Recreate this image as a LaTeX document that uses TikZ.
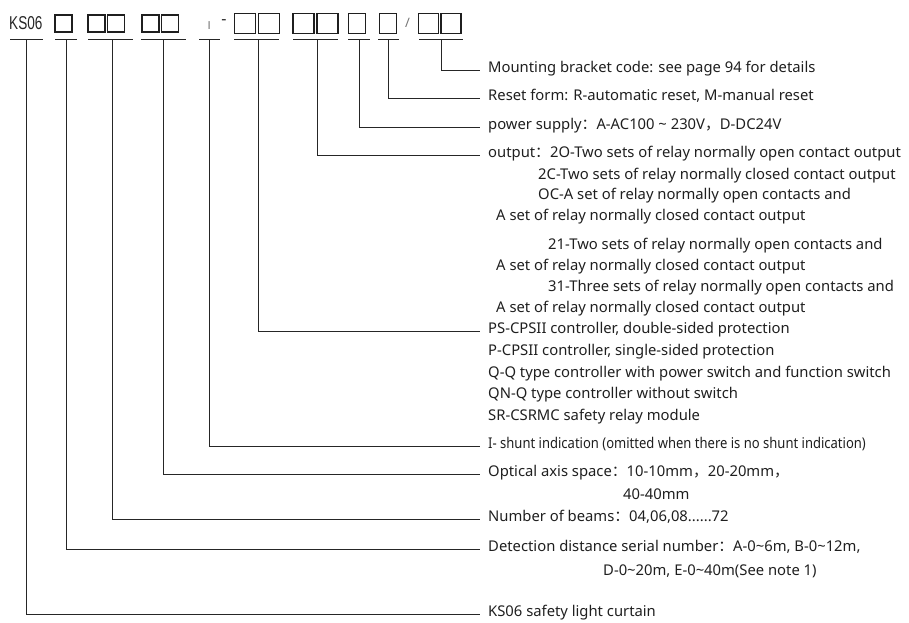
\documentclass[tikz,border=0pt]{standalone}
\usepackage{fontspec}
\setmainfont{Noto Sans}
\newfontfamily\cjk{Noto Sans CJK SC}
\newfontfamily\arialfont{Liberation Sans}
\newcommand{\tld}{\char`\~}
\newcommand{\fcolon}{{\cjk ：}}
\newcommand{\fcomma}{{\cjk ，}}
\begin{document}
\begin{tikzpicture}[x=1pt,y=-1pt,
  lbl/.style={anchor=west,inner sep=0pt,text height=0.72em,text depth=0.22em,font=\fontsize{14.8}{17}\selectfont,text=black!88},
  sbox/.style={draw=black!88,line width=1.4pt,minimum width=17pt,minimum height=17pt,inner sep=0pt,outer sep=0pt,anchor=north west},
  wbox/.style={draw=black!88,line width=1.4pt,minimum width=21pt,minimum height=20pt,inner sep=0pt,outer sep=0pt,anchor=north west},
  ln/.style={draw=black!85,line width=0.9pt},
  glyphmark/.style={inner sep=0pt,text=black!55}]
\useasboundingbox (0,0) rectangle (909,622);
% top code row
\node[anchor=west,inner sep=0pt,text=black!85] (ks) at (9,23.3) {\arialfont\fontsize{18.6}{18.6}\selectfont\scalebox{0.73}[1]{KS06}};
\node[sbox] (bx1) at (55,15) {};
\node[sbox] (bx2) at (88,15) {};
\node[sbox] (bx3) at (107.5,15) {};
\node[sbox] (bx4) at (142,15) {};
\node[sbox] (bx5) at (161.5,15) {};
\node[glyphmark,font=\arialfont\fontsize{11.5}{11.5}\selectfont] (imark) at (209.3,26) {I};
\node[inner sep=0pt,text=black!85,font=\fontsize{16}{16}\selectfont] (dash) at (224,22.5) {-};
\node[wbox] (bx6) at (234.5,13.5) {};
\node[wbox] (bx7) at (258.5,13.5) {};
\node[wbox] (bx8) at (293,13.5) {};
\node[wbox] (bx9) at (317,13.5) {};
\node[wbox,minimum width=17pt] (bx10) at (348.5,13.5) {};
\node[wbox,minimum width=17pt] (bx11) at (379.5,13.5) {};
\node[glyphmark,font=\fontsize{13}{13}\selectfont] (slash) at (407.5,23) {/};
\node[wbox,minimum width=20pt] (bx12) at (418.5,13.5) {};
\node[wbox,minimum width=20pt] (bx13) at (441,13.5) {};
% underlines
\draw[ln] (10,39.5) -- (43,39.5);
\draw[ln] (55,39.5) -- (77,39.5);
\draw[ln] (88,39.5) -- (133,39.5);
\draw[ln] (141,39.5) -- (186,39.5);
\draw[ln] (199,39.5) -- (220,39.5);
\draw[ln] (234,39.5) -- (279,39.5);
\draw[ln] (293,39.5) -- (338,39.5);
\draw[ln] (348,39.5) -- (370,39.5);
\draw[ln] (378,39.5) -- (399,39.5);
\draw[ln] (419,39.5) -- (463,39.5);
% tick coordinates
\coordinate (tK) at (26.5,39.5);
\coordinate (tD) at (66,39.5);
\coordinate (tB) at (112,39.5);
\coordinate (tA) at (163,39.5);
\coordinate (tI) at (209,39.5);
\coordinate (tC) at (258,39.5);
\coordinate (tO) at (317,39.5);
\coordinate (tP) at (359,39.5);
\coordinate (tR) at (388,39.5);
\coordinate (tM) at (441,39.5);
% labels
\node[lbl] (m1) at (488,70) {Mounting bracket code: see page 94 for details};
\node[lbl] (r1) at (488,98) {Reset form: R-automatic reset, M-manual reset};
\node[lbl] (p1) at (488,127) {power supply\fcolon A-AC100 \tld\ 230V\fcomma D-DC24V};
\node[lbl] (o1) at (488,155) {output\fcolon 2O-Two sets of relay normally open contact output};
\node[lbl] (o2) at (538,176.5) {2C-Two sets of relay normally closed contact output};
\node[lbl] (o3) at (538,197) {OC-A set of relay normally open contacts and};
\node[lbl] (o4) at (496,218) {A set of relay normally closed contact output};
\node[lbl] (o5) at (548,247) {21-Two sets of relay normally open contacts and};
\node[lbl] (o6) at (496,268) {A set of relay normally closed contact output};
\node[lbl] (o7) at (548,289) {31-Three sets of relay normally open contacts and};
\node[lbl] (o8) at (496,310) {A set of relay normally closed contact output};
\node[lbl] (c1) at (488,331) {PS-CPSII controller, double-sided protection};
\node[lbl] (c2) at (488,353) {P-CPSII controller, single-sided protection};
\node[lbl] (c3) at (488,375) {Q-Q type controller with power switch and function switch};
\node[lbl] (c4) at (488,396) {QN-Q type controller without switch};
\node[lbl] (c5) at (488,418) {SR-CSRMC safety relay module};
\node[lbl] (i1) at (488,446) {\scalebox{0.88}[1]{I- shunt indication (omitted when there is no shunt indication)}};
\node[lbl] (a1) at (488,474) {Optical axis space\fcolon 10-10mm\fcomma 20-20mm\fcomma};
\node[lbl] (a2) at (623,497) {40-40mm};
\node[lbl] (b1) at (488,519) {Number of beams\fcolon 04,06,08......72};
\node[lbl] (d1) at (488,549) {Detection distance serial number\fcolon A-0\tld 6m, B-0\tld 12m,};
\node[lbl] (d2) at (603,573) {D-0\tld 20m, E-0\tld 40m(See note 1)};
\node[lbl] (k1) at (488,614) {KS06 safety light curtain};
% connectors
\draw[ln] (tM) |- ([xshift=-8pt]m1.west);
\draw[ln] (tR) |- ([xshift=-8pt]r1.west);
\draw[ln] (tP) |- ([xshift=-8pt]p1.west);
\draw[ln] (tO) |- ([xshift=-8pt]o1.west);
\draw[ln] (tC) |- ([xshift=-8pt]c1.west);
\draw[ln] (tI) |- ([xshift=-8pt]i1.west);
\draw[ln] (tA) |- ([xshift=-8pt]a1.west);
\draw[ln] (tB) |- ([xshift=-8pt]b1.west);
\draw[ln] (tD) |- ([xshift=-8pt]d1.west);
\draw[ln] (tK) |- ([xshift=-8pt]k1.west);
\end{tikzpicture}
\end{document}
